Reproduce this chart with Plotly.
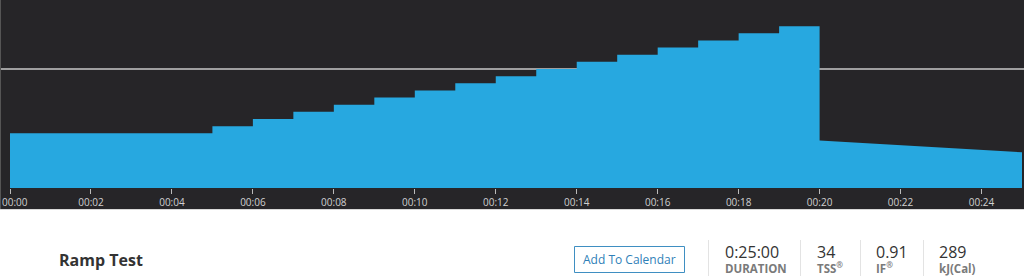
import plotly.graph_objects as go

# ---- data (minutes, % of FTP) ----
seg_start = [0, 5, 6, 7, 8, 9, 10, 11, 12, 13, 14, 15, 16, 17, 18, 19, 20]
seg_end = [5, 6, 7, 8, 9, 10, 11, 12, 13, 14, 15, 16, 17, 18, 19, 20, 25]
pct_start = [46, 52, 58, 64, 70, 76, 82, 88, 94, 100, 106, 112, 118, 124, 130, 136, 40]
pct_end = [46, 52, 58, 64, 70, 76, 82, 88, 94, 100, 106, 112, 118, 124, 130, 136, 30]
ftp_pct = 100
tick_vals = [0, 2, 4, 6, 8, 10, 12, 14, 16, 18, 20, 22, 24]
tick_text = ["00:00", "00:02", "00:04", "00:06", "00:08", "00:10", "00:12",
             "00:14", "00:16", "00:18", "00:20", "00:22", "00:24"]

title = "Ramp Test"
button_label = "Add To Calendar"
stat_values = ["0:25:00", "34", "0.91", "289"]
stat_labels = ["DURATION", "TSS<sup>®</sup>", "IF<sup>®</sup>", "kJ(Cal)"]

# ---- layout constants (pixels) ----
W, H = 1024, 276
PLOT_BOTTOM = 188          # pixel row of the zero baseline
DARK_BOTTOM = 209
X0_PX, X1_PX = 10, 1022    # pixel columns of minute 0 and 25
px_per_min = (X1_PX - X0_PX) / 25.0
DARK = "#262528"
BLUE = "#27a8e0"
TICK_FONT = dict(family="Open Sans", size=10, color="#d0d0d0")


def py(p):
    """pixel row -> paper y"""
    return (PLOT_BOTTOM - p) / PLOT_BOTTOM


def px(p):
    return p / W


xs, ys = [], []
for s, e, a, b in zip(seg_start, seg_end, pct_start, pct_end):
    xs += [s, e]
    ys += [a, b]

# the first label sits flush with the left edge in the reference,
# so it is drawn as an annotation anchored at its tick
shown_ticks = [""] + tick_text[1:]

fig = go.Figure()
fig.add_trace(go.Scatter(
    x=xs, y=ys, mode="lines", line=dict(width=0, color=BLUE),
    fill="tozeroy", fillcolor=BLUE, hoverinfo="skip", showlegend=False))

fig.add_hline(y=ftp_pct, line=dict(color="#c8c8c8", width=1.5), layer="below")

shapes = [
    dict(type="rect", xref="paper", yref="paper", x0=0, x1=1,
         y0=py(DARK_BOTTOM), y1=0, fillcolor=DARK, line=dict(width=0), layer="below"),
    dict(type="line", xref="paper", yref="paper", x0=0, x1=1,
         y0=py(DARK_BOTTOM + 0.5), y1=py(DARK_BOTTOM + 0.5),
         line=dict(color="#d8d8d8", width=1)),
    dict(type="line", xref="paper", yref="paper", x0=px(0.5), x1=px(0.5),
         y0=py(DARK_BOTTOM), y1=1, line=dict(color="#555555", width=1)),
    # button
    dict(type="rect", xref="paper", yref="paper", x0=px(574.5), x1=px(684.5),
         y0=py(272.5), y1=py(246.5), line=dict(color="#3f8fc2", width=1),
         fillcolor="white"),
]
for sx in [708.5, 800.5, 860.5, 923.5]:
    shapes.append(dict(type="line", xref="paper", yref="paper", x0=px(sx), x1=px(sx),
                       y0=py(276), y1=py(240), line=dict(color="#e3e3e3", width=1)))

annotations = [
    dict(text=tick_text[0], x=tick_vals[0], xref="x", y=py(201.5), yref="paper",
         xanchor="left", xshift=-X0_PX + 0.5, yanchor="middle", showarrow=False,
         borderpad=0, font=TICK_FONT),
    dict(text=f"<b>{title}</b>", x=px(57), y=py(259.5), xref="paper", yref="paper",
         xanchor="left", yanchor="middle", showarrow=False,
         font=dict(family="Open Sans", size=16, color="#333333")),
    dict(text=button_label, x=px(629.5), y=py(259.5), xref="paper", yref="paper",
         xanchor="center", yanchor="middle", showarrow=False,
         font=dict(family="Open Sans", size=12, color="#2f7fb8")),
]
stat_x = [725, 817, 876, 939]
for x, v, l in zip(stat_x, stat_values, stat_labels):
    text = (f'<span style="font-size:16px;color:#333333">{v}</span>'
            f"<br><b>{l}</b>")
    annotations.append(dict(text=text, x=px(x - 1), y=py(277), xref="paper", yref="paper",
                            xanchor="left", yanchor="bottom", align="left",
                            showarrow=False, borderpad=0,
                            font=dict(family="Open Sans", size=11.5, color="#7a7a7a")))

fig.update_layout(
    width=W, height=H,
    margin=dict(l=0, r=0, t=0, b=H - PLOT_BOTTOM, pad=0, autoexpand=False),
    paper_bgcolor="white", plot_bgcolor=DARK,
    annotations=annotations,
    xaxis=dict(range=[-X0_PX / px_per_min, 25 + (W - X1_PX) / px_per_min],
               tickvals=tick_vals, ticktext=shown_ticks, ticks="outside", ticklen=5,
               tickcolor="#bbbbbb", tickwidth=1, showgrid=False, zeroline=False,
               showline=False, fixedrange=True, automargin=False,
               tickfont=TICK_FONT),
    yaxis=dict(range=[0, 158], visible=False, showgrid=False, zeroline=False,
               fixedrange=True, automargin=False),
    showlegend=False,
)
for s in shapes:
    fig.add_shape(**s)

fig.write_html("out.html", config={"displayModeBar": False})
